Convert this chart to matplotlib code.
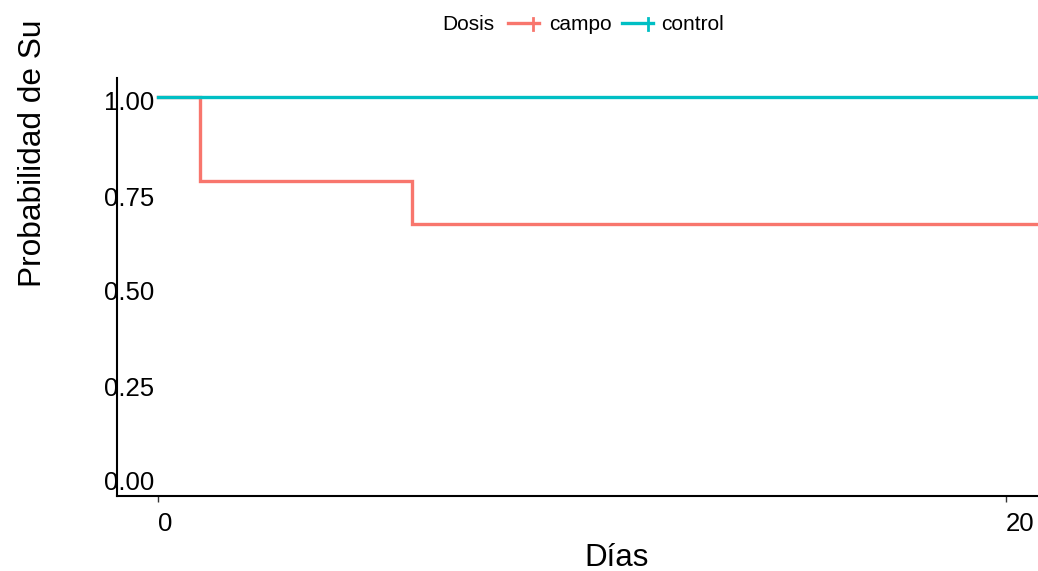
import matplotlib
matplotlib.use("Agg")
import matplotlib.pyplot as plt
import matplotlib.transforms as mtransforms
from matplotlib.lines import Line2D

plt.rcParams['font.family'] = ['Liberation Sans', 'DejaVu Sans']

# Data
groups = ["campo", "control"]
colors = {"campo": "#F8766D", "control": "#00BFC4"}
campo_time = [0, 1, 6, 23]
campo_surv = [1.0, 7/9, 2/3, 2/3]
control_time = [0, 23]
control_surv = [1.0, 1.0]
x_ticks = [0, 20]
y_ticks = [0.00, 0.25, 0.50, 0.75, 1.00]
y_ticklabels = ["0.00", "0.25", "0.50", "0.75", "1.00"]

W, H = 1038, 571
fig = plt.figure(figsize=(W/100, H/100), dpi=100)

def fx(px):
    return px / W

def fy(py):
    return 1 - py / H

ax_left, ax_right, ax_top, ax_bottom = 117, 1116, 78, 496
ax = fig.add_axes([fx(ax_left), fy(ax_bottom), fx(ax_right - ax_left), (ax_bottom - ax_top) / H])

ax.step(campo_time, campo_surv, where='post', color=colors["campo"], lw=2.4, solid_joinstyle='miter')
ax.step(control_time, control_surv, where='post', color=colors["control"], lw=2.4)

ax.set_xlim(-0.967, 22.6)
ax.set_ylim(-0.05, 1.05)
ax.set_xticks(x_ticks)
ax.set_xticklabels([str(t) for t in x_ticks])
ax.set_yticks(y_ticks)
ax.set_yticklabels(y_ticklabels)

for s in ['top', 'right']:
    ax.spines[s].set_visible(False)
for s in ['left', 'bottom']:
    ax.spines[s].set_linewidth(1.5)
    ax.spines[s].set_color('black')

ax.tick_params(axis='y', length=0, pad=-26.5, labelsize=18.5, labelcolor='black')
ax.tick_params(axis='x', length=4, width=1.0, pad=7.5, labelsize=18.5, color='#333333', labelcolor='black')
for lbl in ax.get_xticklabels():
    lbl.set_ha('left')
shift = mtransforms.ScaledTranslation(0, -4/100, fig.dpi_scale_trans)
for lbl in ax.get_yticklabels():
    lbl.set_transform(lbl.get_transform() + shift)

# Axis titles
fig.text(fx(616.5), fy(566), "Días", ha='center', va='baseline', fontsize=22.5)
fig.text(fx(33), fy(287), "Probabilidad de Su", rotation=90, ha='center', va='bottom', fontsize=22.8)

# Legend (manual, at top)
fig.text(fx(442), fy(25), "Dosis", ha='left', va='center', fontsize=15)
legend_items = [("campo", 508, 539, 533, 549), ("control", 622, 653, 648, 661)]
for name, x0, x1, xv, xt in legend_items:
    fig.add_artist(Line2D([fx(x0), fx(x1)], [fy(23), fy(23)], transform=fig.transFigure,
                          color=colors[name], lw=2.4))
    fig.add_artist(Line2D([fx(xv), fx(xv)], [fy(17.5), fy(30)], transform=fig.transFigure,
                          color=colors[name], lw=2.0))
    fig.text(fx(xt), fy(25), name, ha='left', va='center', fontsize=15)

fig.savefig("out.png", dpi=100)
